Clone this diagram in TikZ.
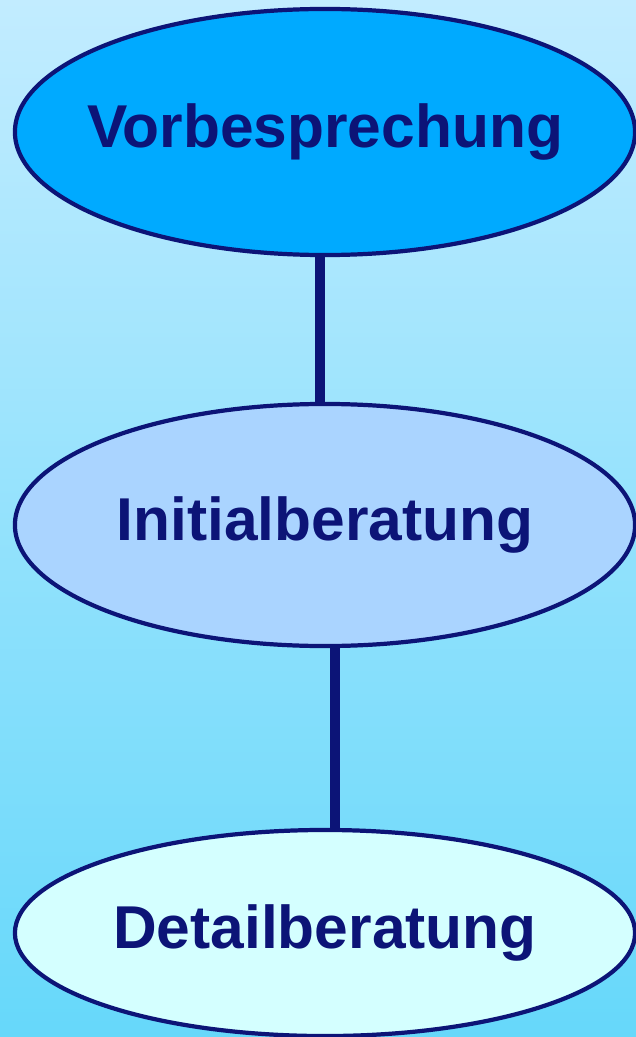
\documentclass[tikz,border=0pt]{standalone}
\usepackage{fontspec}
\setmainfont{Liberation Sans}
\usetikzlibrary{shapes.geometric}
\definecolor{navy}{HTML}{0C1477}
\definecolor{skytop}{HTML}{C2ECFF}
\definecolor{skybot}{HTML}{66D8FA}
\definecolor{vorfill}{HTML}{00AAFF}
\definecolor{inifill}{HTML}{AAD4FF}
\definecolor{detfill}{HTML}{D4FFFF}
\newcommand{\phasetext}[1]{\raisebox{-0.08cm}{\makebox[0pt]{#1}}}
\tikzset{
    phase/.style={ellipse,draw=navy,line width=3pt,inner sep=0pt,
        minimum width=15.5cm,font=\fontsize{43}{48}\selectfont\bfseries,text=navy},
    link/.style={draw=navy,line width=7pt}
}
\begin{document}
\begin{tikzpicture}[x=0.025cm,y=-0.025cm]
    \shade[top color=skytop,bottom color=skybot] (0,0) rectangle (636,1037);
    \useasboundingbox (0,0) rectangle (636,1037);
    \node[phase,fill=vorfill,minimum height=6.15cm] (vor) at (325,132) {\phasetext{Vorbesprechung}};
    \node[phase,fill=inifill,minimum height=6.05cm] (ini) at (325,525) {\phasetext{Initialberatung}};
    \node[phase,fill=detfill,minimum height=5.15cm] (det) at (325,933) {\phasetext{Detailberatung}};
    \draw[link] ([xshift=-0.125cm]vor.south) -- ([xshift=-0.125cm]ini.north);
    \draw[link] ([xshift=0.25cm]ini.south) -- ([xshift=0.25cm]det.north);
\end{tikzpicture}
\end{document}
